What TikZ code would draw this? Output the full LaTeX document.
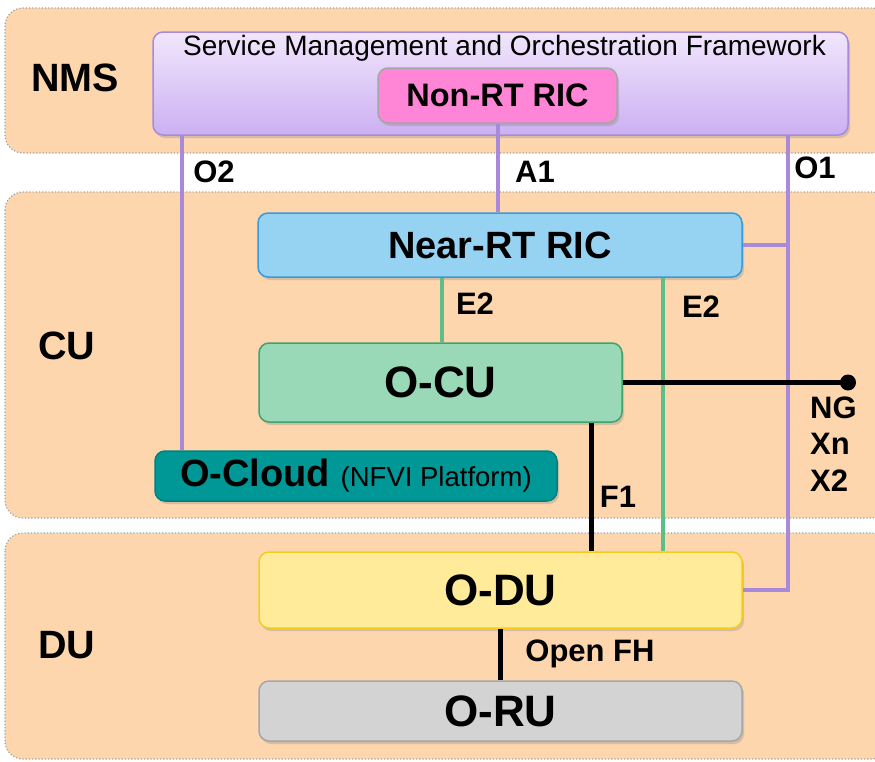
\documentclass[tikz,border=0pt]{standalone}
\usepackage{fontspec}
\setmainfont{Liberation Sans}
\usetikzlibrary{shadows,calc}
\definecolor{bandfill}{HTML}{FDD6AE}
\definecolor{bandline}{HTML}{A0A0A0}
\definecolor{smoline}{HTML}{A68ADB}
\definecolor{smotop}{HTML}{F1E6FC}
\definecolor{smobot}{HTML}{CCB0F2}
\definecolor{nonrtfill}{HTML}{FF86D6}
\definecolor{nearfill}{HTML}{96D2F1}
\definecolor{nearline}{HTML}{3A9AD9}
\definecolor{ocufill}{HTML}{99D9B8}
\definecolor{oculine}{HTML}{3FA36B}
\definecolor{cloudfill}{HTML}{009896}
\definecolor{cloudline}{HTML}{00807E}
\definecolor{dufill}{HTML}{FFEB99}
\definecolor{duline}{HTML}{F7CB1E}
\definecolor{rufill}{HTML}{D3D3D3}
\definecolor{ruline}{HTML}{A6A6A6}
\definecolor{purpleln}{HTML}{A889DA}
\definecolor{greenln}{HTML}{5DBE88}
\tikzset{
  bandbox/.style={fill=bandfill, draw=bandline, dotted, line width=1.2pt, rounded corners=18pt},
  blk/.style={rectangle, rounded corners=10pt, line width=1.5pt, inner sep=0pt,
    drop shadow={shadow xshift=2pt, shadow yshift=-3pt, opacity=0.3}},
  bigtxt/.style={font=\fontsize{38}{41}\selectfont\bfseries},
  hugetxt/.style={font=\fontsize{44}{48}\selectfont\bfseries},
  lbl/.style={font=\fontsize{31}{34}\selectfont\bfseries, inner sep=0pt},
  sidelbl/.style={font=\fontsize{39.5}{43}\selectfont\bfseries, inner sep=0pt},
  purpleconn/.style={draw=purpleln, line width=4pt},
  greenconn/.style={draw=greenln, line width=3.2pt},
  blackconn/.style={draw=black, line width=5pt},
}
\begin{document}
\begin{tikzpicture}[x=1pt,y=-1pt]
\useasboundingbox (0,0) rectangle (875,761);
\fill[white] (0,0) rectangle (875,761);
% bands
\draw[bandbox] (5,8) rectangle (890,153);
\draw[bandbox] (5,192) rectangle (890,518);
\draw[bandbox] (5,533) rectangle (890,759);
% side labels
\node[sidelbl] (nms) at (75,78) {NMS};
\node[sidelbl] (cu) at (67,346) {CU};
\node[sidelbl] (du) at (67,645) {DU};
% boxes
\node[blk, draw=smoline, top color=smotop, bottom color=smobot, minimum width=695pt, minimum height=103pt] (smo) at (500.5,83.5) {};
\node[font=\fontsize{28}{31}\selectfont, inner sep=0pt] (smot) at (504.5,48) {Service Management and Orchestration Framework};
\node[blk, fill=nonrtfill, draw=ruline, minimum width=239pt, minimum height=55pt, font=\fontsize{32.5}{35}\selectfont\bfseries] (nonrt) at (497.5,95.5) {Non-RT RIC};
\node[blk, fill=nearfill, draw=nearline, minimum width=484pt, minimum height=64pt, bigtxt] (near) at (500,245) {Near-RT RIC};
\node[blk, fill=ocufill, draw=oculine, minimum width=363pt, minimum height=79pt, hugetxt] (ocu) at (440.5,382.5) {O-CU};
\node[blk, fill=cloudfill, draw=cloudline, minimum width=402pt, minimum height=50pt] (cloud) at (356,476) {\fontsize{38}{41}\selectfont\bfseries O-Cloud \fontsize{27.5}{30}\selectfont\mdseries(NFVI Platform)};
\node[blk, fill=dufill, draw=duline, minimum width=483pt, minimum height=76pt, hugetxt] (odu) at (500.5,590) {O-DU};
\node[blk, fill=rufill, draw=ruline, minimum width=483pt, minimum height=60pt, hugetxt] (oru) at (500.5,711) {O-RU};
% helper coordinates
\coordinate (o2x) at (182,0);
\coordinate (o1x) at (788,0);
\coordinate (e2ax) at (442,0);
\coordinate (e2bx) at (663,0);
\coordinate (f1x) at (591,0);
\coordinate (ngend) at (848,382.5);
% connectors
\draw[purpleconn] (smo.south -| o2x) -- (cloud.north -| o2x);
\draw[purpleconn] (nonrt.south) -- (nonrt.south |- near.north);
\draw[purpleconn] (smo.south -| o1x) -- (odu.east -| o1x) -- (odu.east);
\draw[purpleconn] (near.east) -- (near.east -| o1x);
\draw[greenconn] (near.south -| e2ax) -- (ocu.north -| e2ax);
\draw[greenconn] (near.south -| e2bx) -- (odu.north -| e2bx);
\draw[blackconn] (ocu.south -| f1x) -- (odu.north -| f1x);
\draw[blackconn] (ocu.east) -- (ngend);
\fill[black] (ngend) circle (8pt);
\draw[blackconn] (odu.south) -- (oru.north);
% connector labels
\node[lbl] (lo2) at (214,172) {O2};
\node[lbl] (la1) at (535,172) {A1};
\node[lbl] (lo1) at (815,168) {O1};
\node[lbl] (le2a) at (475,304) {E2};
\node[lbl] (le2b) at (701,307) {E2};
\node[lbl] (lf1) at (618,497) {F1};
\node[lbl, anchor=west] (lng) at (810,408) {NG};
\node[lbl, anchor=west] (lxn) at (810,444) {Xn};
\node[lbl, anchor=west] (lx2) at (810,481) {X2};
\node[lbl] (lfh) at (590,654) {Open FH};
\end{tikzpicture}
\end{document}
